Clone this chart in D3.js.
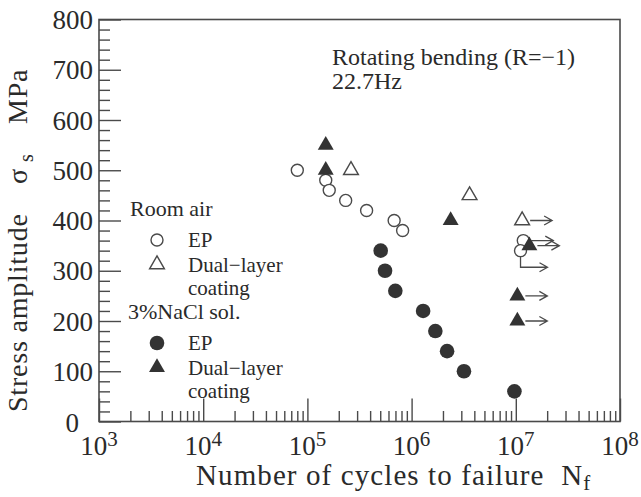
<!DOCTYPE html>
<html>
<head>
<meta charset="utf-8">
<script src="https://cdn.jsdelivr.net/npm/d3@7"></script>
<style>
  html, body { margin: 0; padding: 0; background: #fff; }
  svg { display: block; }
  text { font-family: "Liberation Serif", "Times New Roman", serif; fill: #2a2a2a; }
</style>
</head>
<body>
<div id="chart"></div>
<script>
// ---------- data ----------
const yMajorTicks = [0, 100, 200, 300, 400, 500, 600, 700, 800];
const xDecades = [3, 4, 5, 6, 7, 8];

// Room air, EP (open circles): [cycles, stress MPa]
const airEP = [[8.0e4, 500], [1.5e5, 480], [1.62e5, 460], [2.33e5, 440], [3.7e5, 420], [6.8e5, 400], [8.2e5, 380]];
const airEPRunout = [[1.18e7, 360, null], [1.11e7, 340, 307]]; // third: stress level of bent arrow
// Room air, Dual-layer coating (open triangles)
const airDual = [[2.62e5, 500], [3.6e6, 450]];
const airDualRunout = [[1.15e7, 400, null]];
// 3% NaCl, EP (filled circles)
const naclEP = [[5.05e5, 340], [5.56e5, 300], [6.98e5, 260], [1.29e6, 220], [1.69e6, 180], [2.19e6, 140], [3.18e6, 100], [9.7e6, 60]];
// 3% NaCl, Dual-layer coating (filled triangles)
const naclDual = [[1.5e5, 550], [1.5e5, 500], [2.37e6, 400]];
const naclDualRunout = [[1.35e7, 350, null], [1.035e7, 250, null], [1.035e7, 200, null]];

const legendGroups = ["Room air", "3%NaCl sol."];
const legendItems = [
  { group: 0, shape: "circle", filled: false, lines: ["EP"] },
  { group: 0, shape: "triangle", filled: false, lines: ["Dual\u2212layer", "coating"] },
  { group: 1, shape: "circle", filled: true, lines: ["EP"] },
  { group: 1, shape: "triangle", filled: true, lines: ["Dual\u2212layer", "coating"] }
];
const annotationLines = ["Rotating bending (R=\u22121)", "22.7Hz"];

// ---------- setup ----------
const W = 641, H = 497;
const svg = d3.select("#chart").append("svg").attr("width", W).attr("height", H);
const x = d3.scaleLog().domain([1e3, 1e8]).range([99, 620]);
const y = d3.scaleLinear().domain([0, 800]).range([421.5, 19.5]);
const ink = "#4a4a4a", fillInk = "#333";

// frame
svg.append("rect").attr("x", x(1e3)).attr("y", y(800))
  .attr("width", x(1e8) - x(1e3)).attr("height", y(0) - y(800))
  .attr("fill", "none").attr("stroke", ink).attr("stroke-width", 1.6);

// y axis ticks
const yMinor = d3.range(0, 801, 20).filter(v => v % 100 !== 0);
const yAxisMinor = svg.append("g").attr("transform", `translate(${x(1e3)},0)`)
  .call(d3.axisLeft(y).tickValues(yMinor).tickSize(-11).tickFormat(""));
const yAxisMajor = svg.append("g").attr("transform", `translate(${x(1e3)},0)`)
  .call(d3.axisLeft(y).tickValues(yMajorTicks).tickSize(-22).tickPadding(6).tickFormat(d3.format("d")));
[yAxisMinor, yAxisMajor].forEach(g => {
  g.select(".domain").remove();
  g.selectAll("line").attr("stroke", ink).attr("stroke-width", 1.4);
});
yAxisMajor.selectAll("text").attr("font-size", 27).attr("fill", "#2a2a2a")
  .style("font-family", '"Liberation Serif", serif')
  .attr("x", d => d === 0 ? -20 : -6).attr("dy", d => d === 0 ? "0.38em" : "0.34em");

// x axis ticks
const xMinor = [];
for (let e = 3; e < 8; e++) for (let m = 2; m <= 9; m++) xMinor.push(m * Math.pow(10, e));
const xMajorVals = xDecades.map(e => Math.pow(10, e));
const xAxisMinor = svg.append("g").attr("transform", `translate(0,${y(0)})`)
  .call(d3.axisBottom(x).tickValues(xMinor).tickSize(-10.5).tickFormat(""));
const xAxisMajor = svg.append("g").attr("transform", `translate(0,${y(0)})`)
  .call(d3.axisBottom(x).tickValues(xMajorVals).tickSize(-23).tickFormat(""));
[xAxisMinor, xAxisMajor].forEach(g => {
  g.select(".domain").remove();
  g.selectAll("line").attr("stroke", ink).attr("stroke-width", 1.4);
});
const xLab = svg.append("g").selectAll("text").data(xDecades).join("text")
  .attr("x", d => x(Math.pow(10, d))).attr("y", 455)
  .attr("text-anchor", "middle").attr("font-size", 27);
xLab.append("tspan").text("10");
xLab.append("tspan").attr("dy", -9).attr("font-size", 21).text(d => d);

// axis titles
const xt = svg.append("text").attr("x", 196).attr("y", 485)
  .attr("font-size", 29).attr("letter-spacing", 1.1).attr("xml:space", "preserve");
xt.append("tspan").text("Number of cycles to failure  N");
xt.append("tspan").attr("dy", 5).attr("font-size", 21).text("f");

const yt = svg.append("text").attr("transform", "translate(27,412) rotate(-90)")
  .attr("font-size", 28).attr("letter-spacing", 0.8);
yt.append("tspan").attr("x", 0).text("Stress amplitude");
yt.append("tspan").attr("x", 228).text("\u03c3");
yt.append("tspan").attr("x", 250).attr("dy", 6).attr("font-size", 20).text("s");
yt.append("tspan").attr("x", 288).attr("dy", -6).text("MPa");

// annotation
svg.append("g").selectAll("text").data(annotationLines).join("text")
  .attr("x", 332).attr("y", (d, i) => 65 + i * 23.5)
  .attr("font-size", 24).text(d => d);

// ---------- markers ----------
const triOpen = d3.symbol().type(d3.symbolTriangle).size(95);
const triFill = d3.symbol().type(d3.symbolTriangle).size(110);
function drawMarker(g, shape, filled, cx, cy) {
  if (shape === "circle") {
    g.append("circle").attr("cx", cx).attr("cy", cy)
      .attr("r", filled ? 7.3 : 6)
      .attr("fill", filled ? fillInk : "#fff")
      .attr("stroke", filled ? "none" : ink).attr("stroke-width", 1.4);
  } else {
    g.append("path").attr("d", filled ? triFill() : triOpen())
      .attr("transform", `translate(${cx},${cy})`)
      .attr("fill", filled ? fillInk : "#fff")
      .attr("stroke", filled ? "none" : ink).attr("stroke-width", 1.4);
  }
}
function drawArrow(g, cx, cy, bentY) {
  const p = d3.path();
  let sy = cy, sx;
  if (bentY != null) {
    p.moveTo(cx, cy + 6); p.lineTo(cx, bentY); p.lineTo(cx + 27, bentY);
    sy = bentY; sx = cx + 27;
  } else {
    p.moveTo(cx + 8, cy); p.lineTo(cx + 30, cy); sx = cx + 30;
  }
  p.moveTo(sx - 8, sy - 4.5); p.lineTo(sx, sy); p.lineTo(sx - 8, sy + 4.5);
  g.append("path").attr("d", p.toString()).attr("fill", "none")
    .attr("stroke", ink).attr("stroke-width", 1.3);
}

const gData = svg.append("g");
const series = [
  { pts: airEP, run: airEPRunout, shape: "circle", filled: false },
  { pts: airDual, run: airDualRunout, shape: "triangle", filled: false },
  { pts: naclEP, run: [], shape: "circle", filled: true },
  { pts: naclDual, run: naclDualRunout, shape: "triangle", filled: true }
];
series.forEach(s => {
  s.pts.forEach(d => drawMarker(gData, s.shape, s.filled, x(d[0]), y(d[1])));
  s.run.forEach(d => {
    drawArrow(gData, x(d[0]), y(d[1]), d[2] == null ? null : y(d[2]));
  });
  s.run.forEach(d => drawMarker(gData, s.shape, s.filled, x(d[0]), y(d[1])));
});

// ---------- legend ----------
const gLeg = svg.append("g");
const fsLeg = 21, lineGap = 23.5;
const groupPos = [{ x: 130, y: 216 }, { x: 128, y: 319 }];
legendGroups.forEach((t, i) => {
  gLeg.append("text").attr("x", groupPos[i].x).attr("y", groupPos[i].y)
    .attr("font-size", fsLeg + 1).text(t);
});
legendItems.forEach((it, k) => {
  const idx = k % 2;
  const base = groupPos[it.group].y + (idx === 0 ? 31 : 55.5);
  drawMarker(gLeg, it.shape, it.filled, 157, base - 7);
  it.lines.forEach((ln, j) => {
    gLeg.append("text").attr("x", 188).attr("y", base + j * lineGap)
      .attr("font-size", fsLeg).text(ln);
  });
});
</script>
</body>
</html>
